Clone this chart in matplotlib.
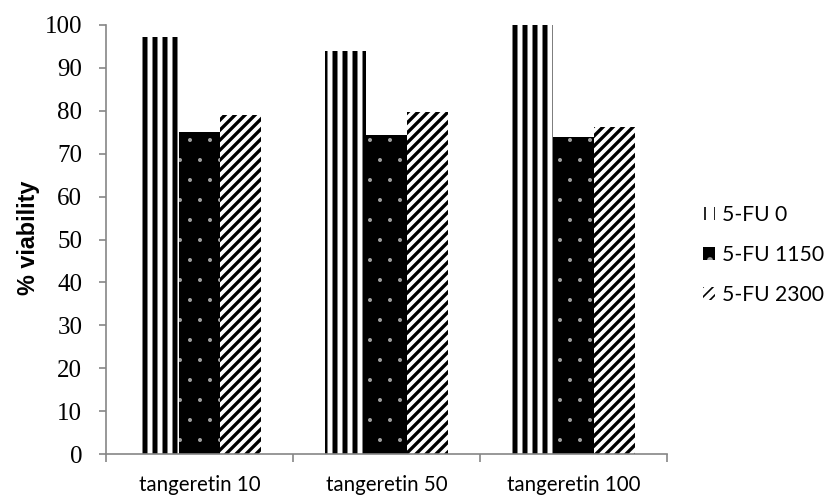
import matplotlib
matplotlib.use("Agg")
import matplotlib.pyplot as plt
import numpy as np

categories = ["tangeretin 10", "tangeretin 50", "tangeretin 100"]
series_names = ["5-FU 0", "5-FU 1150", "5-FU 2300"]
fu0 = [97.2, 94.0, 102.0]
fu1150 = [75.1, 74.4, 73.9]
fu2300 = [79.0, 79.7, 76.2]
yticks = [0, 10, 20, 30, 40, 50, 60, 70, 80, 90, 100]

DPI = 120
fig = plt.figure(figsize=(827 / DPI, 495 / DPI), dpi=DPI)
ax = fig.add_axes([0.1282, 0.0828, 0.6783, 0.8667])

x = np.arange(len(categories))
w = 0.22

styles = [
    dict(face="white", hatchc="black", hatch="||", hlw=3.0),
    dict(face="black", hatchc="#a0a0a0", hatch=".", hlw=0.0),
    dict(face="white", hatchc="black", hatch="////", hlw=2.0),
]
data = [fu0, fu1150, fu2300]
handles = []
for i, (vals, st, name) in enumerate(zip(data, styles, series_names)):
    with plt.rc_context({"hatch.linewidth": st["hlw"]}):
        bars = ax.bar(x + (i - 1) * w, vals, width=w, facecolor=st["face"],
                      edgecolor=st["hatchc"], linewidth=0, hatch=st["hatch"],
                      label=name)
        for b in bars:
            if hasattr(b, "set_hatch_linewidth"):
                b.set_hatch_linewidth(st["hlw"])
    handles.append(bars)

ax.set_xlim(-0.5, 2.5)
ax.set_ylim(0, 100)
ax.set_yticks(yticks)
ax.set_yticklabels([str(t) for t in yticks], fontfamily="Liberation Serif", fontsize=15)

ax.set_xticks([-0.5, 0.5, 1.5, 2.5])
ax.set_xticklabels([])
ax.set_xticks(x, minor=True)
ax.set_xticklabels(categories, minor=True, fontfamily="Lato", fontsize=12.3)
ax.tick_params(axis="x", which="minor", length=0, pad=12.5)
ax.tick_params(axis="x", which="major", length=4.8, width=1, color="#868686", direction="out")
ax.tick_params(axis="y", length=4.2, width=1, color="#868686", direction="out", pad=10)

for s in ["top", "right"]:
    ax.spines[s].set_visible(False)
for s in ["left", "bottom"]:
    ax.spines[s].set_color("#868686")
    ax.spines[s].set_linewidth(1)

fig.text(28 / 827, 1 - 238 / 495, "% viability", rotation=90, ha="center", va="center",
         fontfamily="Liberation Sans", fontweight="bold", fontsize=14)

leg = fig.legend(handles=handles, labels=series_names, loc="center left",
                 bbox_to_anchor=(703 / 827, 1 - 255 / 495), frameon=False,
                 prop={"family": "Lato", "size": 12.7}, handlelength=0.55,
                 handleheight=0.55, handletextpad=0.35, labelspacing=0.95,
                 borderpad=0, borderaxespad=0)

fig.savefig("out.png", dpi=DPI)
